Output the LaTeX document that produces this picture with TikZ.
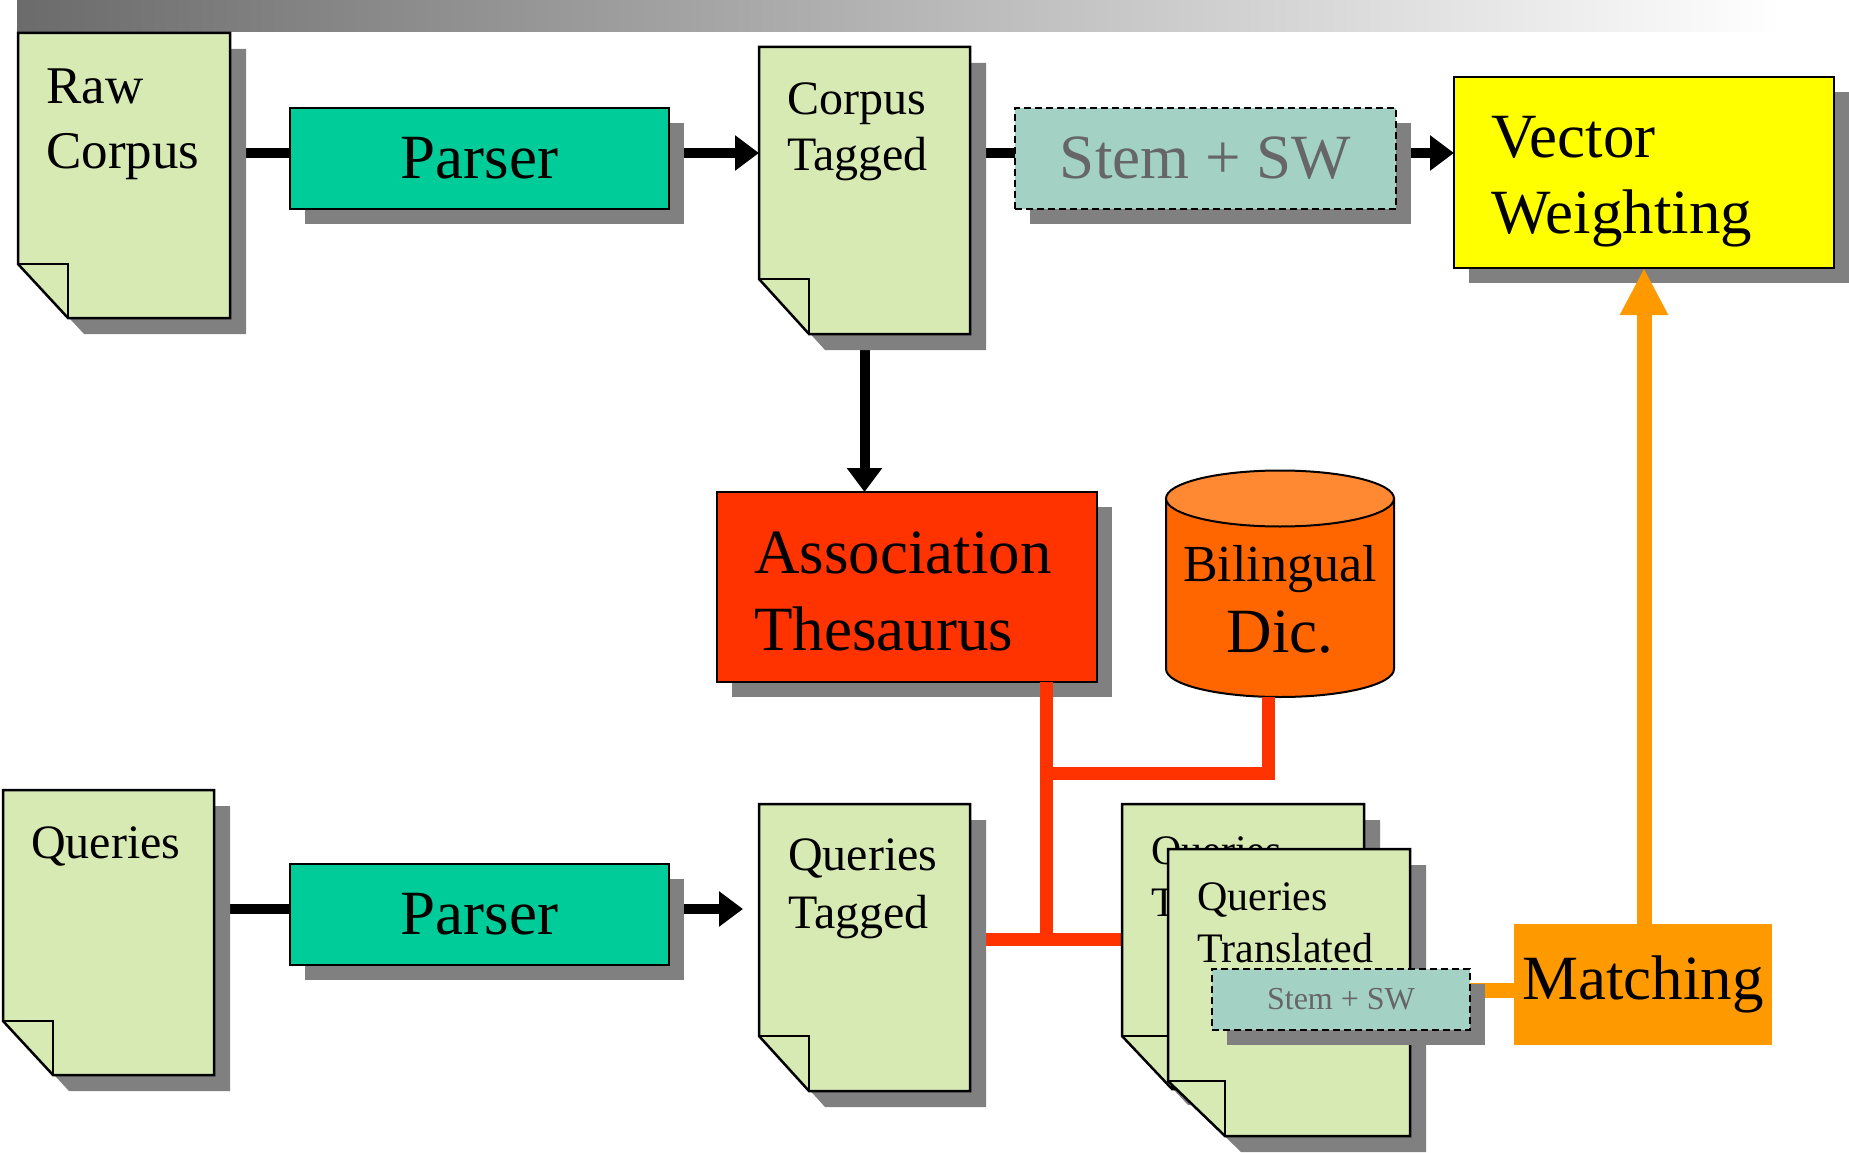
\documentclass[tikz,border=0pt]{standalone}
\usepackage{fontspec}
\setmainfont{Liberation Serif}
\usetikzlibrary{arrows.meta,shadows,backgrounds}
\definecolor{docgreen}{HTML}{D8EAB4}
\definecolor{dropgray}{HTML}{808080}
\definecolor{bargray}{HTML}{6B6B6B}
\definecolor{parser}{HTML}{00CC99}
\definecolor{stem}{HTML}{A3D1C4}
\definecolor{stemtext}{HTML}{666666}
\definecolor{vector}{HTML}{FFFF00}
\definecolor{thesaurus}{HTML}{FF3300}
\definecolor{dicbody}{HTML}{FF6600}
\definecolor{dictop}{HTML}{FF8833}
\definecolor{matching}{HTML}{FF9900}
\tikzset{box/.style={anchor=north west,inner sep=0pt,outer sep=0pt,draw=black,line width=2.5pt,
  font=\fontsize{63}{76}\selectfont,drop shadow={shadow xshift=15pt,shadow yshift=-15pt,fill=dropgray,opacity=1}},
stembox/.style={fill=stem,text=stemtext,dash pattern=on 7pt off 4pt},
matchbox/.style={anchor=north west,inner sep=0pt,outer sep=0pt,fill=matching,font=\fontsize{63}{76}\selectfont},
docnode/.style={anchor=north west,inner sep=0pt,outer sep=0pt},
docbody/.style={fill=docgreen,draw=black,line width=2.5pt},
doctext/.style={anchor=base west,align=left,inner sep=0pt},
wire/.style={line width=10pt,black},
redwire/.style={line width=13pt,thesaurus},
orangewire/.style={line width=15pt,matching},
arrowed/.style={-{Triangle[length=24pt,width=34pt]}},
bigarrowed/.style={-{Triangle[length=47pt,width=45pt]}}}
\newcommand{\paperdoc}[3]{%
  \fill[dropgray] ([shift={(16,16)}]#1.north west) -- ([shift={(16,16)}]#1.north east)
    -- ([shift={(16,16)}]#1.south east) -- ([shift={(16+#2,16)}]#1.south west)
    -- ([shift={(16,16-#3)}]#1.south west) -- cycle;
  \filldraw[docbody] (#1.north west) -- (#1.north east) -- (#1.south east)
    -- ([shift={(#2,0)}]#1.south west) -- ([shift={(0,-#3)}]#1.south west) -- cycle;
  \draw[black,line width=2.5pt] ([shift={(0,-#3)}]#1.south west) -- ([shift={(#2,-#3)}]#1.south west)
    -- ([shift={(#2,0)}]#1.south west);}
\begin{document}
\begin{tikzpicture}[x=1pt,y=-1pt]
\useasboundingbox (0,0) rectangle (1849,1153);
\shade[left color=bargray,right color=white] (17,0) rectangle (1780,32);

\node[docnode,minimum width=212,minimum height=285] (rc) at (18,33) {};
\paperdoc{rc}{50}{54}
\node[doctext,font=\fontsize{53}{65}\selectfont] (rctext) at (46,168) {Raw\\Corpus};

\node[box,fill=parser,minimum width=379,minimum height=101] (p1) at (290,108) {Parser};

\node[docnode,minimum width=211,minimum height=287] (ct) at (759,47) {};
\paperdoc{ct}{50}{55}
\node[doctext,font=\fontsize{48}{55}\selectfont] (cttext) at (787,170) {Corpus\\Tagged};

\node[box,stembox,minimum width=381,minimum height=101] (st) at (1015,108) {Stem + SW};

\node[box,fill=vector,minimum width=380,minimum height=191] (vw) at (1454,77) {};
\node[doctext,font=\fontsize{63}{76}\selectfont] (vwtext) at (1491,233) {Vector\\Weighting};

\node[box,fill=thesaurus,minimum width=380,minimum height=190] (at) at (717,492) {};
\node[doctext,font=\fontsize{63}{77}\selectfont] (attext) at (754,650) {Association\\Thesaurus};

\filldraw[fill=dicbody,draw=black,line width=2pt] (1166,498.5) -- (1166,669)
  arc[start angle=180,end angle=360,x radius=114pt,y radius=28pt] -- (1394,498.5) -- cycle;
\filldraw[fill=dictop,draw=black,line width=2pt] (1280,498.5) ellipse[x radius=114pt,y radius=28pt];
\node[anchor=base,align=center,inner sep=0pt] (bd) at (1280,652)
  {\fontsize{52}{62}\selectfont Bilingual\\[17pt]\fontsize{63}{75}\selectfont Dic.};
\coordinate (bdb) at (1268,697);

\node[docnode,minimum width=211,minimum height=285] (q) at (3,790) {};
\paperdoc{q}{50}{54}
\node[doctext,font=\fontsize{48}{58}\selectfont] (qtext) at (31,858) {Queries};

\node[box,fill=parser,minimum width=379,minimum height=101] (p2) at (290,864) {Parser};

\node[docnode,minimum width=211,minimum height=287] (qt) at (759,804) {};
\paperdoc{qt}{50}{55}
\node[doctext,font=\fontsize{48}{58}\selectfont] (qttext) at (788,928) {Queries\\Tagged};

\node[docnode,minimum width=242,minimum height=285] (tq1) at (1122,804) {};
\paperdoc{tq1}{50}{53}
\node[doctext,font=\fontsize{42}{52}\selectfont] (tq1text) at (1151,916) {Queries\\Translated};

\node[docnode,minimum width=242,minimum height=287] (tq2) at (1168,849) {};
\paperdoc{tq2}{57}{55}
\node[doctext,font=\fontsize{42}{52}\selectfont] (tq2text) at (1197,962) {Queries\\Translated};

\node[box,stembox,font=\fontsize{32}{38}\selectfont,minimum width=258,minimum height=61] (ss) at (1212,969) {Stem + SW};

\node[matchbox,minimum width=258,minimum height=121] (mt) at (1514,924) {Matching};

\coordinate (r1) at (0,153);
\coordinate (r2) at (0,909);
\coordinate (j1) at (1046,773);
\coordinate (j2) at (1046,939);
\coordinate (m1) at (0,990);
\draw[redwire] (at.south -| j1) -- (j2);
\draw[redwire] (bdb) -- (bdb |- j1) -- (j1);
\draw[orangewire,bigarrowed] (mt.north -| vw.south) -- (vw.south);
\begin{scope}[on background layer]
\draw[wire] (rc.east |- r1) -- (p1.west |- r1);
\draw[wire,arrowed] (p1.east |- r1) -- (ct.west |- r1);
\draw[wire] (ct.east |- r1) -- (st.west |- r1);
\draw[wire,arrowed] (st.east |- r1) -- (vw.west |- r1);
\draw[wire,arrowed] (ct.south) -- (at.north -| ct.south);
\draw[wire] (q.east |- r2) -- (p2.west |- r2);
\draw[wire,arrowed,shorten >=16pt] (p2.east |- r2) -- (qt.west |- r2);
\draw[redwire] (qt.east |- j2) -- (tq1.west |- j2);
\draw[orangewire] (tq2.center |- m1) -- (mt.west |- m1);
\end{scope}
\end{tikzpicture}
\end{document}
